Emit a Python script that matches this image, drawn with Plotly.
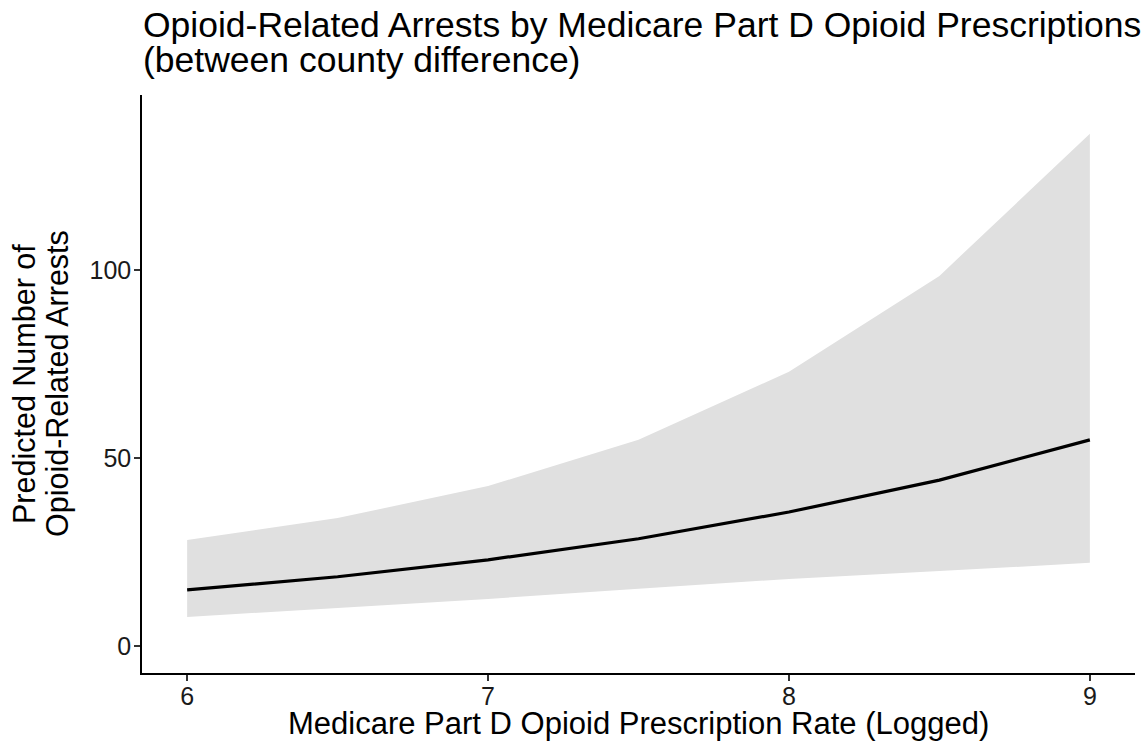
import plotly.graph_objects as go

x_vals = [6.0, 6.5, 7.0, 7.5, 8.0, 8.5, 9.0]
predicted = [14.9, 18.4, 22.9, 28.5, 35.6, 44.1, 54.8]
upper_ci = [28.2, 34.0, 42.5, 54.8, 72.9, 98.4, 136.2]
lower_ci = [7.7, 10.1, 12.5, 15.2, 17.8, 19.9, 22.1]
y_ticks = [0, 50, 100]
x_ticks = [6, 7, 8, 9]

title_lines = ["Opioid-Related Arrests by Medicare Part D Opioid Prescriptions",
               "(between county difference)"]
x_title = "Medicare Part D Opioid Prescription Rate (Logged)"
y_title_lines = ["Predicted Number of", "Opioid-Related Arrests"]

fig = go.Figure()
fig.add_trace(go.Scatter(x=x_vals, y=lower_ci, mode="lines", line=dict(width=0),
                         showlegend=False, hoverinfo="skip"))
fig.add_trace(go.Scatter(x=x_vals, y=upper_ci, mode="lines", line=dict(width=0),
                         fill="tonexty", fillcolor="#e0e0e0", showlegend=False, hoverinfo="skip"))
fig.add_trace(go.Scatter(x=x_vals, y=predicted, mode="lines",
                         line=dict(color="black", width=3.2), showlegend=False))

font_family = "Liberation Sans, Arial, sans-serif"
L, R, T, B = 142, 8, 95, 78
W, H = 1143, 751
pw, ph = W - L - R, H - T - B

def py(px):
    return (H - B - px) / ph

def px_(x):
    return (x - L) / pw

annotations = [
    dict(text=title_lines[0], x=px_(141), y=py(25), xref="paper", yref="paper",
         xanchor="left", yanchor="middle", showarrow=False,
         font=dict(size=35.5, color="black", family=font_family)),
    dict(text=title_lines[1], x=px_(141), y=py(60), xref="paper", yref="paper",
         xanchor="left", yanchor="middle", showarrow=False,
         font=dict(size=35.5, color="black", family=font_family)),
    dict(text=x_title, x=0.5, y=py(723), xref="paper", yref="paper",
         xanchor="center", yanchor="middle", showarrow=False,
         font=dict(size=31, color="black", family=font_family)),
    dict(text=y_title_lines[0], x=px_(24), y=0.5, xref="paper", yref="paper",
         xanchor="center", yanchor="middle", showarrow=False, textangle=-90,
         font=dict(size=30.5, color="black", family=font_family)),
    dict(text=y_title_lines[1], x=px_(57), y=0.5, xref="paper", yref="paper",
         xanchor="center", yanchor="middle", showarrow=False, textangle=-90,
         font=dict(size=30.5, color="black", family=font_family)),
]

fig.update_layout(
    width=W, height=H,
    margin=dict(l=L, r=R, t=T, b=B),
    paper_bgcolor="white", plot_bgcolor="white",
    font=dict(family=font_family, color="black"),
    annotations=annotations,
    xaxis=dict(range=[5.85, 9.15], tickvals=x_ticks, showgrid=False, zeroline=False,
               showline=True, linecolor="black", linewidth=1.5,
               ticks="outside", ticklen=6, tickcolor="#333333", tickwidth=1.5,
               ticklabelstandoff=-6,
               tickfont=dict(size=25, color="#1a1a1a")),
    yaxis=dict(range=[-7.2, 146.5], tickvals=y_ticks, showgrid=False, zeroline=False,
               showline=True, linecolor="black", linewidth=1.5,
               ticks="outside", ticklen=6, tickcolor="#333333", tickwidth=1.5,
               ticklabelstandoff=-2,
               tickfont=dict(size=25, color="#1a1a1a")),
)

fig.write_html("out.html")
